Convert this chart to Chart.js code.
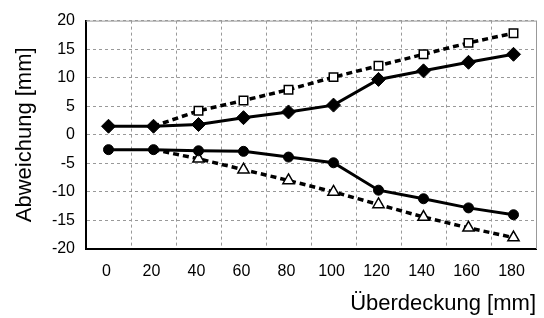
<!DOCTYPE html>
<html><head><meta charset="utf-8">
<script src="https://cdn.jsdelivr.net/npm/chart.js@4.4.1/dist/chart.umd.min.js"></script>
<style>html,body{margin:0;padding:0;background:#fff}</style>
</head><body>
<canvas id="c" width="544" height="318"></canvas>
<script>
const categories = ['0','20','40','60','80','100','120','140','160','180'];
const upperSolid  = [1.5, 1.5, 1.8, 3.0, 4.0, 5.2, 9.7, 11.2, 12.7, 14.1];
const upperDashed = [null, 1.5, 4.2, 6.0, 7.9, 10.1, 12.1, 14.1, 16.1, 17.8];
const lowerSolid  = [-2.6, -2.6, -2.8, -2.9, -3.9, -4.9, -9.7, -11.2, -12.8, -14.0];
const lowerDashed = [null, -2.6, -4.2, -6.1, -8.0, -10.0, -12.2, -14.4, -16.3, -18.0];
const yMin = -20, yMax = 20, yStep = 5;
const xTitle = 'Überdeckung [mm]';
const yTitle = 'Abweichung [mm]';

const FONT = '"Liberation Sans", Arial, sans-serif';
const hideFirst = (r) => (ctx) => ctx.dataIndex < 2 ? 0 : r;

const frame = {
  id: 'frame',
  beforeDatasetsDraw(chart) {
    const {ctx, chartArea: a} = chart;
    ctx.save();
    ctx.strokeStyle = '#999';
    ctx.lineWidth = 1;
    ctx.setLineDash([]);
    ctx.beginPath();
    ctx.moveTo(a.left, a.top + 0.5);
    ctx.lineTo(a.right + 0.5, a.top + 0.5);
    ctx.lineTo(a.right + 0.5, a.bottom);
    ctx.stroke();
    ctx.restore();
  }
};

new Chart(document.getElementById('c'), {
  type: 'line',
  data: {
    labels: categories,
    datasets: [
      { data: upperSolid, borderColor: '#000', backgroundColor: '#000', borderWidth: 3,
        pointStyle: 'rectRot', pointRadius: 7, pointBackgroundColor: '#000', pointBorderColor: '#000', pointBorderWidth: 1 },
      { data: lowerSolid, borderColor: '#000', backgroundColor: '#000', borderWidth: 3,
        pointStyle: 'circle', pointRadius: 5, pointBackgroundColor: '#000', pointBorderColor: '#000', pointBorderWidth: 1 },
      { data: upperDashed, borderColor: '#000', borderWidth: 3.5, borderDash: [6, 4],
        pointStyle: 'rect', pointRadius: hideFirst(6), pointBackgroundColor: '#fff', pointBorderColor: '#000', pointBorderWidth: 1.5 },
      { data: lowerDashed, borderColor: '#000', borderWidth: 3.5, borderDash: [6, 4],
        pointStyle: 'triangle', pointRadius: hideFirst(6.5), pointBackgroundColor: '#fff', pointBorderColor: '#000', pointBorderWidth: 1.5 }
    ]
  },
  options: {
    responsive: false,
    animation: false,
    devicePixelRatio: 1,
    layout: { padding: { top: 18, right: 8, left: 0, bottom: 0 } },
    plugins: { legend: { display: false }, tooltip: { enabled: false } },
    elements: { line: { tension: 0 } },
    scales: {
      x: {
        type: 'category',
        offset: true,
        afterFit(s) { s.height = 69; },
        grid: { offset: true, color: '#999', lineWidth: 1, drawTicks: false },
        border: { display: true, color: '#000', width: 2, dash: [3, 3] },
        ticks: { color: '#000', font: { family: FONT, size: 16 }, padding: 13, maxRotation: 0, autoSkip: false, labelOffset: -2 },
        title: { display: true, text: xTitle, align: 'end', color: '#000', font: { family: FONT, size: 22 }, padding: { top: 0, bottom: 1 } }
      },
      y: {
        min: yMin, max: yMax,
        afterFit(s) { s.width = 86; },
        grid: { color: '#999', lineWidth: 1, drawTicks: false },
        border: { display: true, color: '#000', width: 2, dash: [3, 3] },
        ticks: { stepSize: yStep, color: '#000', font: { family: FONT, size: 16 }, padding: 11 },
        title: { display: true, text: yTitle, color: '#000', font: { family: FONT, size: 22 }, padding: { top: 12, bottom: 0 } }
      }
    }
  },
  plugins: [frame]
});
</script>
</body></html>
